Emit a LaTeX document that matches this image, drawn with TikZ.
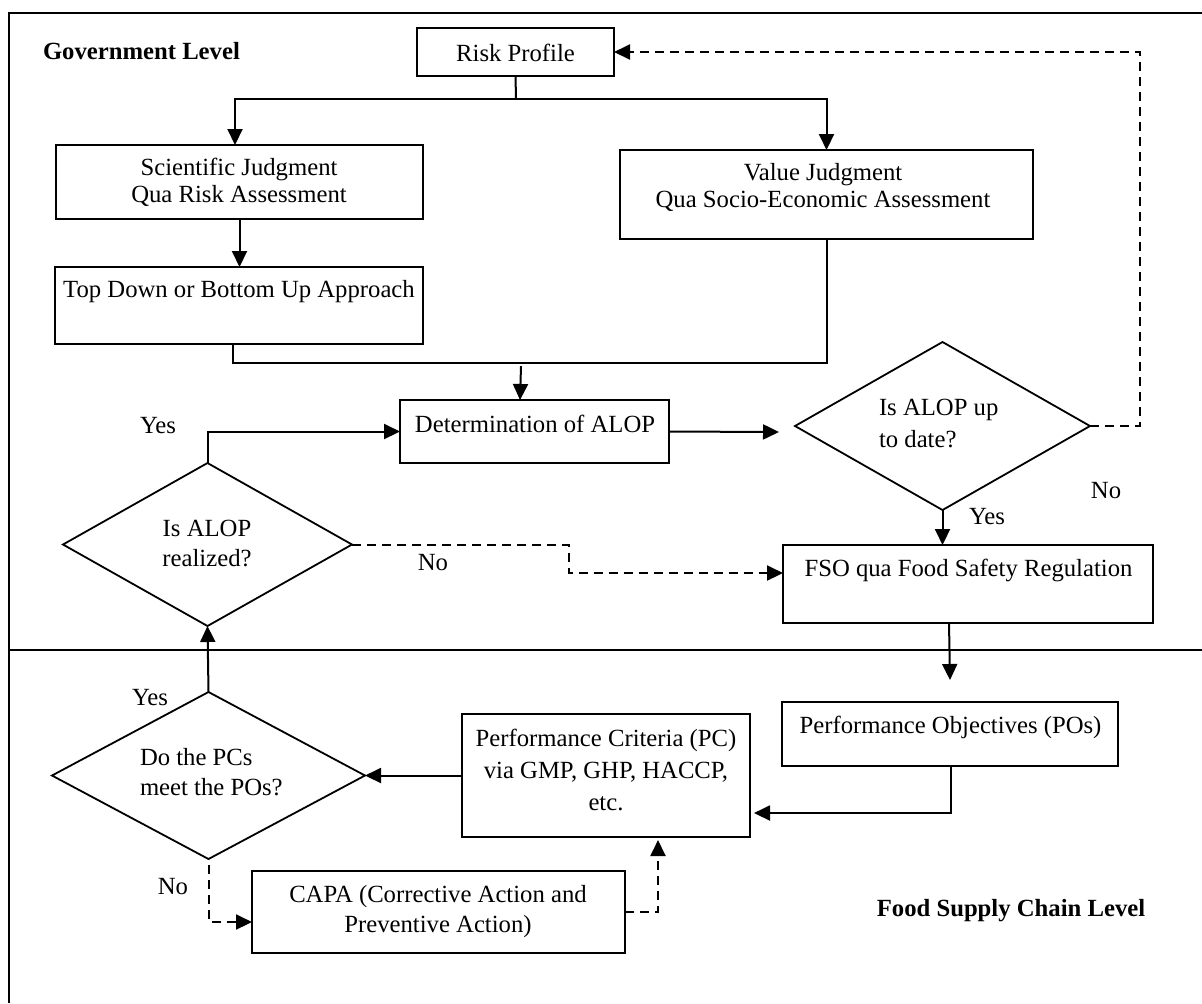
\documentclass[tikz,border=0pt]{standalone}
\usepackage{fontspec}
\setmainfont{Liberation Serif}
\usetikzlibrary{arrows.meta,shapes.geometric,calc}

% one unit = one pixel of the 1202 x 1003 canvas, y grows downwards
\tikzset{
  box/.style={draw, line width=1pt, inner sep=0pt, outer sep=0pt},
  decision/.style={draw, diamond, line width=0.9pt, inner sep=0pt, outer sep=0pt},
  txt/.style={inner sep=0pt, outer sep=0pt, anchor=base, font=\fontsize{12.35}{15}\selectfont},
  txtl/.style={txt, anchor=base west},
  heading/.style={txt, anchor=base west, font=\fontsize{12.35}{15}\selectfont\bfseries},
  conn/.style={line width=1pt},
  arr/.style={conn, -{Triangle[length=8pt,width=7.5pt]}},
  dasharr/.style={arr, dash pattern=on 4.5pt off 3pt},
}

\begin{document}
\begin{tikzpicture}[x=0.5pt, y=-0.5pt]
\useasboundingbox (0,0) rectangle (1202,1003);

% frame and level divider
\draw[line width=1pt] (9,1003) -- (9,13) -- (1202,13);
\draw[line width=1pt] (9,650) -- (1202,650);

% headings
\node[heading] (govlevel) at (43,59) {Government Level};
\node[heading, anchor=base] (fsclevel) at (1011,916) {Food Supply Chain Level};

% boxes
\node[box, minimum width=98.5pt, minimum height=24pt] (risk) at (515.5,52) {};
\node[box, minimum width=183.5pt, minimum height=37pt] (sci) at (239.5,182) {};
\node[box, minimum width=206.5pt, minimum height=44.5pt] (val) at (826.5,194.5) {};
\node[box, minimum width=184pt, minimum height=38.5pt] (topdown) at (239,305.5) {};
\node[box, minimum width=134.5pt, minimum height=31.5pt] (det) at (534.5,431.5) {};
\node[box, minimum width=185pt, minimum height=39pt] (fso) at (968,584) {};
\node[box, minimum width=168pt, minimum height=32pt] (po) at (950,734) {};
\node[box, minimum width=144pt, minimum height=61.5pt] (pc) at (606,775.5) {};
\node[box, minimum width=186.5pt, minimum height=41pt] (capa) at (438.5,912) {};

% decisions
\node[decision, minimum width=144.5pt, minimum height=81.5pt] (realized) at (207.5,544.5) {};
\node[decision, minimum width=147.5pt, minimum height=84pt] (uptodate) at (942.5,426) {};
\node[decision, minimum width=156.5pt, minimum height=83.5pt] (meet) at (208.5,775.5) {};

% box texts
\node[txt] (risk-t) at (515.5,61) {Risk Profile};
\node[txt, font=\fontsize{12.35}{13.5}\selectfont] (sci-t) at (239,202)
  {\begin{tabular}[b]{@{}c@{}}Scientific Judgment\\Qua Risk Assessment\end{tabular}};
\node[txt, font=\fontsize{12.35}{13.5}\selectfont] (val-t) at (823,207)
  {\begin{tabular}[b]{@{}c@{}}Value Judgment\\Qua Socio-Economic Assessment\end{tabular}};
\node[txt] (topdown-t) at (239,297) {Top Down or Bottom Up Approach};
\node[txt] (det-t) at (535,432) {Determination of ALOP};
\node[txt] (fso-t) at (968.5,576) {FSO qua Food Safety Regulation};
\node[txt] (po-t) at (950.5,733) {Performance Objectives (POs)};
\node[txt, font=\fontsize{12.35}{16}\selectfont] (pc-t) at (606,810)
  {\begin{tabular}[b]{@{}c@{}}Performance Criteria (PC)\\via GMP, GHP, HACCP,\\etc.\end{tabular}};
\node[txt, font=\fontsize{12.35}{15}\selectfont] (capa-t) at (438,932)
  {\begin{tabular}[b]{@{}c@{}}CAPA (Corrective Action and\\Preventive Action)\end{tabular}};

% decision texts
\node[txt, font=\fontsize{12.35}{15}\selectfont] (realized-t) at (207,566)
  {\begin{tabular}[b]{@{}c@{}}Is ALOP\\realized?\end{tabular}};
\node[txtl, font=\fontsize{12.35}{16}\selectfont] (uptodate-t) at (879,447)
  {\begin{tabular}[b]{@{}l@{}}Is ALOP up\\to date?\end{tabular}};
\node[txtl, font=\fontsize{12.35}{15}\selectfont] (meet-t) at (140,795)
  {\begin{tabular}[b]{@{}l@{}}Do the PCs\\meet the POs?\end{tabular}};

% branch labels
\node[txt] (yes1) at (158,433) {Yes};
\node[txt] (no1) at (433,570) {No};
\node[txt] (no2) at (1106,498) {No};
\node[txt] (yes2) at (987,524) {Yes};
\node[txt] (yes3) at (150,705) {Yes};
\node[txt] (no3) at (173,894) {No};

% government level flow
\coordinate (split) at (516,99);
\draw[conn] (risk.south) -- (split);
\draw[arr] (split) -| ($(sci.north)+(-4.5,0)$);
\draw[arr] (split) -| (val.north);
\draw[arr] (sci.south) -- (sci.south |- topdown.north);

\coordinate (join) at (826.5,363);
\draw[conn] ($(topdown.south)+(-6,0)$) |- (join) -- (val.south);
\draw[arr] ($(det.north)+(-13.5,-34)$) -- ($(det.north)+(-14.5,0)$);

\draw[arr] (det.east) -- ($(uptodate.west)+(-16,6)$);
\draw[dasharr] (uptodate.east) -- ++(50,0) |- (risk.east);
\draw[arr] (uptodate.south) -- (uptodate.south |- fso.north);
\draw[arr] (realized.north) |- (det.west);
\draw[dasharr] (realized.east) -- ++(217,0) |- ($(fso.west)+(0,-11)$);

% food supply chain level flow
\draw[arr] ($(fso.south)+(-19,0)$) -- ($(po.north)+(0,-22)$);
\draw[arr] ($(po.south)+(1,0)$) |- ($(pc.east)+(4,37.5)$);
\draw[arr] (pc.west) -- (meet.east);
\draw[arr] (meet.north) -- (realized.south);
\draw[dasharr] ($(meet.south)+(0,6)$) |- ($(capa.west)+(0,10)$);
\draw[dasharr] (capa.east) -| ($(pc.south)+(52,3)$);

\end{tikzpicture}
\end{document}
